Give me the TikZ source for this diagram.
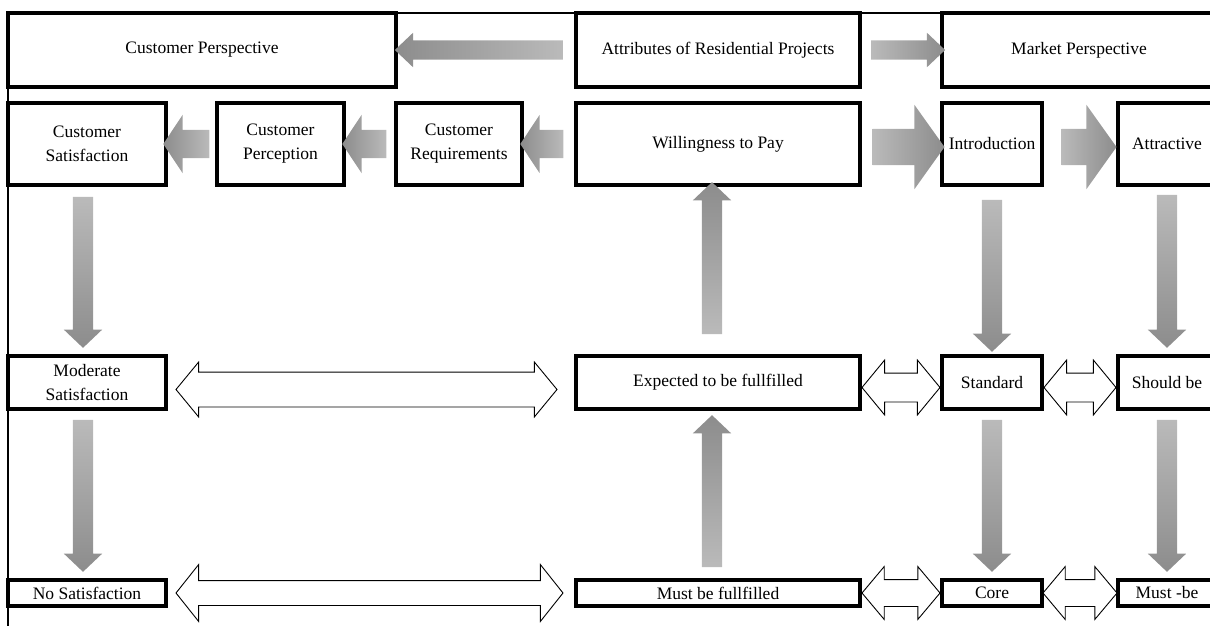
\documentclass[tikz,border=0pt]{standalone}
\usepackage{fontspec}
\setmainfont{Liberation Serif}
\usetikzlibrary{positioning,calc,shapes.arrows}

\tikzset{
  gap a/.store in=\gapa, gap b/.store in=\gapb,
  gap a=0pt, gap b=0pt,
}

\begin{document}
\begin{tikzpicture}[x=1pt,y=-1pt,
  font=\fontsize{17.5}{24}\selectfont,
  box/.style={draw,line width=3.2pt,inner sep=0pt,outer sep=0pt,align=center,fill=white},
  titlebox/.style={box,minimum height=74pt},
  stagebox/.style={box,minimum height=82pt},
  midbox/.style={box,minimum height=53pt},
  lowbox/.style={box,minimum height=26pt},
  frameline/.style={line width=1.8pt},
  % grey arrows shade from tail to head (\n3 comes from the link path)
  shadearrow/.style={single arrow,draw=none,inner sep=0pt,outer sep=0pt,
                     left color=black!27,right color=black!45,shading angle=\n3},
  hollowarrow/.style={double arrow,draw,fill=white,line width=0.9pt,inner sep=0pt,outer sep=0pt},
  toparrow/.style={shadearrow,inner ysep=9.5pt,minimum width=34pt,
                   single arrow head extend=7.5pt,single arrow tip angle=87},
  backarrow/.style={shadearrow,inner ysep=14pt,minimum width=58pt,
                    single arrow head extend=15pt,single arrow tip angle=113},
  fwdarrow/.style={shadearrow,inner ysep=18pt,minimum width=84pt,
                   single arrow head extend=24pt,single arrow tip angle=109},
  vertarrow/.style={shadearrow,inner ysep=10pt,minimum width=38pt,
                    single arrow head extend=9pt,single arrow tip angle=93},
  longdbl/.style={hollowarrow,inner ysep=17pt,minimum width=54pt,
                  double arrow head extend=10pt,double arrow tip angle=101},
  shortdbl/.style={hollowarrow,inner ysep=14pt,minimum width=54pt,
                   double arrow head extend=13pt,double arrow tip angle=101},
  longdbllow/.style={hollowarrow,inner ysep=12pt,minimum width=56pt,
                     double arrow head extend=16pt,double arrow tip angle=103},
  shortdbllow/.style={hollowarrow,inner ysep=13pt,minimum width=52pt,
                      double arrow head extend=13pt,double arrow tip angle=100},
  link/.style={to path={
    let \p1=($(\tikztostart)!\gapa!(\tikztotarget)$),
        \p2=($(\tikztotarget)!\gapb!(\tikztostart)$),
        \n1={veclen(\x2-\x1,\y2-\y1)}, \n2={atan2(\y2-\y1,\x2-\x1)},
        \n3={atan2(\y2-\y1,\x2-\x1)+90} in
    node[#1,minimum height=\n1,rotate=\n2]
      at ($(\p1)!0.5!(\p2)$) {} (\tikztotarget)}}
]
\useasboundingbox (0,0) rectangle (1210,626);
\draw[frameline] (1216,13) -| (8,626);

% top row
\node[titlebox,minimum width=388pt,anchor=north west] (cp) at (8,13) {Customer Perspective};
\node[titlebox,minimum width=284pt,right=180pt of cp] (attr) {Attributes of Residential Projects};
\node[titlebox,minimum width=274pt,right=82pt of attr] (mp) {Market Perspective};

% second row
\node[stagebox,minimum width=158pt,below=16pt of cp.south west,anchor=north west] (csat) {Customer\\Satisfaction};
\node[stagebox,minimum width=127pt,right=51pt of csat] (cperc) {Customer\\Perception};
\node[stagebox,minimum width=126pt,right=52pt of cperc] (creq) {Customer\\Requirements};
\node[stagebox,minimum width=284pt,right=54pt of creq] (wtp) {Willingness to Pay};
\node[stagebox,minimum width=100pt,right=82pt of wtp] (intro) {Introduction};
\node[stagebox,minimum width=98pt,right=76pt of intro] (attract) {Attractive};

% third row
\node[midbox,minimum width=158pt,below=171pt of csat.south west,anchor=north west] (mod) {Moderate\\Satisfaction};
\node[midbox,minimum width=284pt,right=410pt of mod] (exp) {Expected to be fullfilled};
\node[midbox,minimum width=100pt,right=82pt of exp] (std) {Standard};
\node[midbox,minimum width=98pt,right=76pt of std] (should) {Should be};

% bottom row
\node[lowbox,minimum width=158pt,below=171pt of mod.south west,anchor=north west] (nosat) {No Satisfaction};
\node[lowbox,minimum width=284pt,right=410pt of nosat] (must) {Must be fullfilled};
\node[lowbox,minimum width=100pt,right=82pt of must] (core) {Core};
\node[lowbox,minimum width=98pt,right=76pt of core] (mustbe) {Must -be};

% grey arrows
\path (attr.west) to[link=toparrow,gap a=8pt,gap b=4pt] (cp.east);
\path (attr.east) to[link=toparrow,gap a=6pt,gap b=2pt] (mp.west);
\path (wtp.west) to[link=backarrow,gap a=8pt,gap b=3pt] (creq.east);
\path (creq.west) to[link=backarrow,gap a=5pt,gap b=3pt] (cperc.east);
\path (cperc.west) to[link=backarrow,gap a=3pt,gap b=2pt] (csat.east);
\path ([yshift=-3pt]wtp.east) to[link=fwdarrow,gap a=6pt,gap b=4pt] ([yshift=-3pt]intro.west);
\path ([yshift=-3pt]intro.east) to[link=fwdarrow,gap a=13pt,gap b=8pt] ([yshift=-3pt]attract.west);

\path ([xshift=-4pt]csat.south) to[link=vertarrow,gap a=7pt,gap b=13pt] ([xshift=-4pt]mod.north);
\path ([xshift=-4pt]mod.south) to[link=vertarrow,gap a=6pt,gap b=13pt] ([xshift=-4pt]nosat.north);
\path (intro.south) to[link=vertarrow,gap a=10pt,gap b=9pt] (std.north);
\path (std.south) to[link=vertarrow,gap a=6pt,gap b=13pt] (core.north);
\path (attract.south) to[link=vertarrow,gap a=5pt,gap b=13pt] (should.north);
\path (should.south) to[link=vertarrow,gap a=6pt,gap b=13pt] (mustbe.north);
\path ([xshift=-6pt]exp.north) to[link=vertarrow,gap a=17pt,gap b=2pt] ([xshift=-6pt]wtp.south);
\path ([xshift=-6pt]must.north) to[link=vertarrow,gap a=8pt,gap b=11pt] ([xshift=-6pt]exp.south);

% white double arrows
\path ([yshift=-7pt]mod.east) to[link=longdbl,gap a=10pt,gap b=19pt] ([yshift=-7pt]exp.west);
\path ([yshift=-5pt]exp.east) to[link=shortdbl,gap a=2pt,gap b=2pt] ([yshift=-5pt]std.west);
\path ([yshift=-5pt]std.east) to[link=shortdbl,gap a=2pt,gap b=2pt] ([yshift=-5pt]should.west);
\path (nosat.east) to[link=longdbllow,gap a=10pt,gap b=13pt] (must.west);
\path (must.east) to[link=shortdbllow,gap a=2pt,gap b=2pt] (core.west);
\path (core.east) to[link=shortdbllow,gap a=1pt,gap b=1pt] (mustbe.west);
\end{tikzpicture}
\end{document}
